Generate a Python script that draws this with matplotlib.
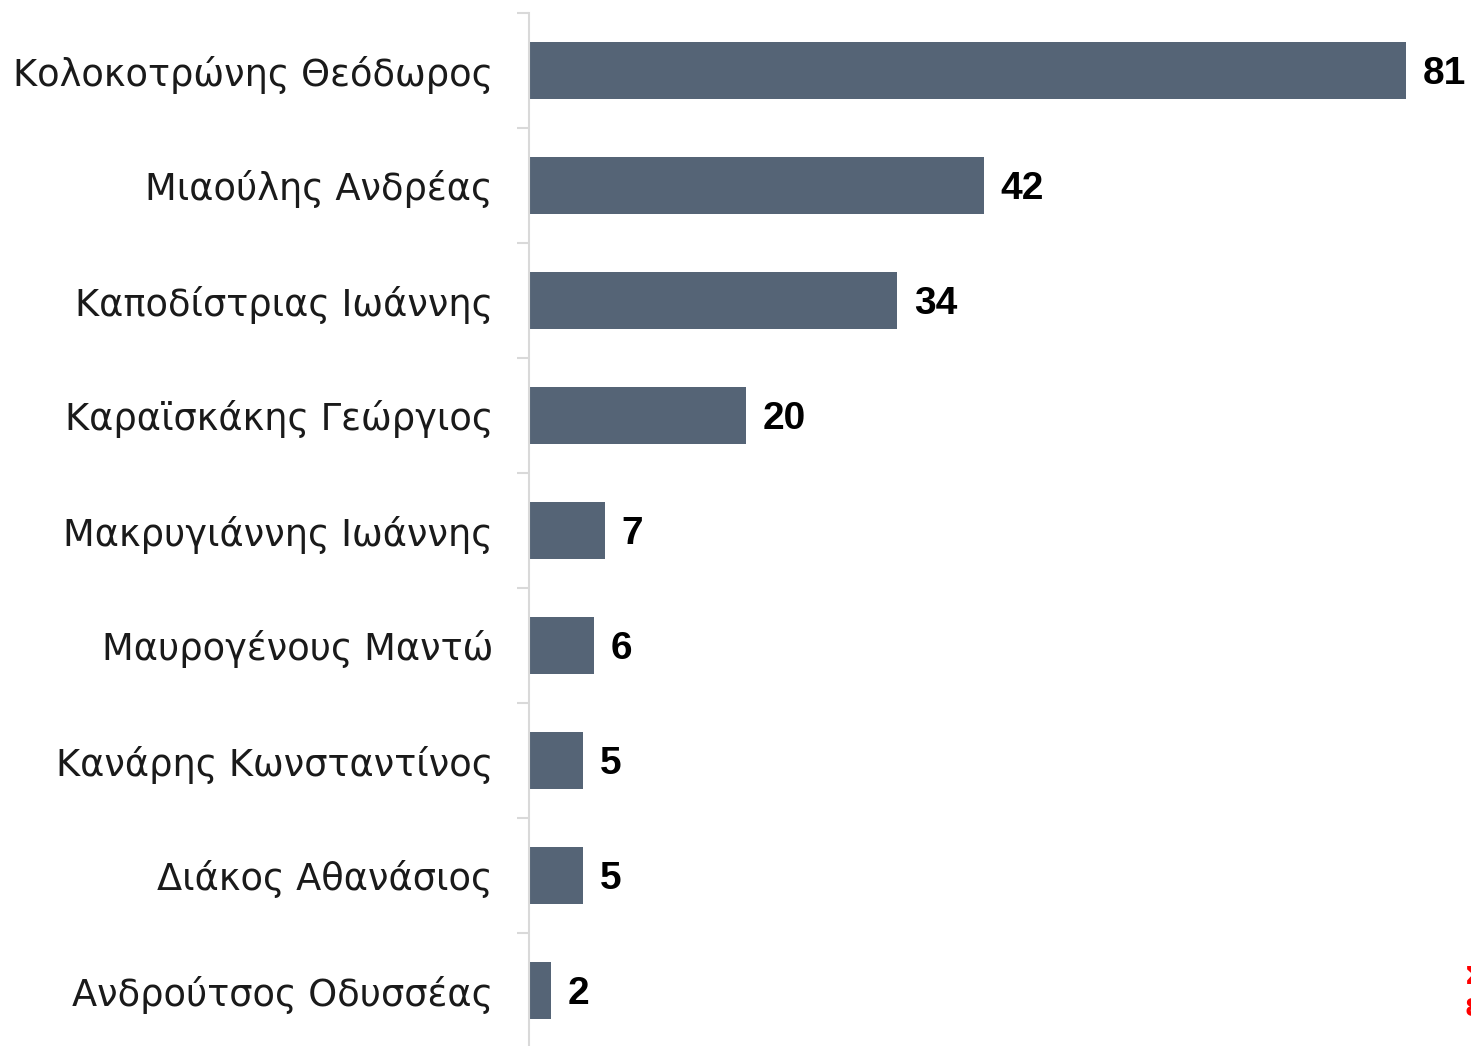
import numpy as np
from matplotlib import pyplot as plt

names = ['Κολοκοτρώνης Θεόδωρος', 'Μιαούλης Ανδρέας', 'Καποδίστριας Ιωάννης',
         'Καραϊσκάκης Γεώργιος', 'Μακρυγιάννης Ιωάννης', 'Μαυρογένους Μαντώ',
         'Κανάρης Κωνσταντίνος', 'Διάκος Αθανάσιος', 'Ανδρούτσος Οδυσσέας']
votes = [81, 42, 34, 20, 7, 6, 5, 5, 2]

W, H = 1471, 1046
fig = plt.figure(figsize=(W/100, H/100), dpi=100)
ax = fig.add_axes([529/W, 1 - 1048/H, (1406-529)/W, (1048-13)/H])

y = np.arange(len(names))
ax.barh(y, votes, height=0.5, color='#556476')
ax.set_xlim(0, 81)
ax.set_ylim(len(names) - 0.5, -0.5)

for yi, v in zip(y, votes):
    ax.text(v + 1.55, yi + 0.03, str(v), va='center', ha='left', fontsize=28,
            fontweight='bold', family='Liberation Sans', clip_on=False)

ax.set_yticks(y)
ax.set_yticklabels(names, fontsize=26.5, family='DejaVu Sans', color='#1a1a1a')
ax.set_yticks(np.arange(len(names) + 1) - 0.5, minor=True)
ax.tick_params(axis='y', which='major', length=0, pad=26)
ax.tick_params(axis='y', which='minor', length=8.6, width=1.5, color='#d9d9d9')
ax.set_xticks([])
for s in ['top', 'right', 'bottom']:
    ax.spines[s].set_visible(False)
ax.spines['left'].set_color('#d9d9d9')
ax.spines['left'].set_linewidth(1.5)

# red note at the right edge, cut off as in the original
fig.text(1465/W, 1 - 993/H, 'Σ\n8', color='red', fontsize=17, fontweight='bold',
         va='center', ha='left', linespacing=1.4)

fig.savefig('out.png', dpi=100)
